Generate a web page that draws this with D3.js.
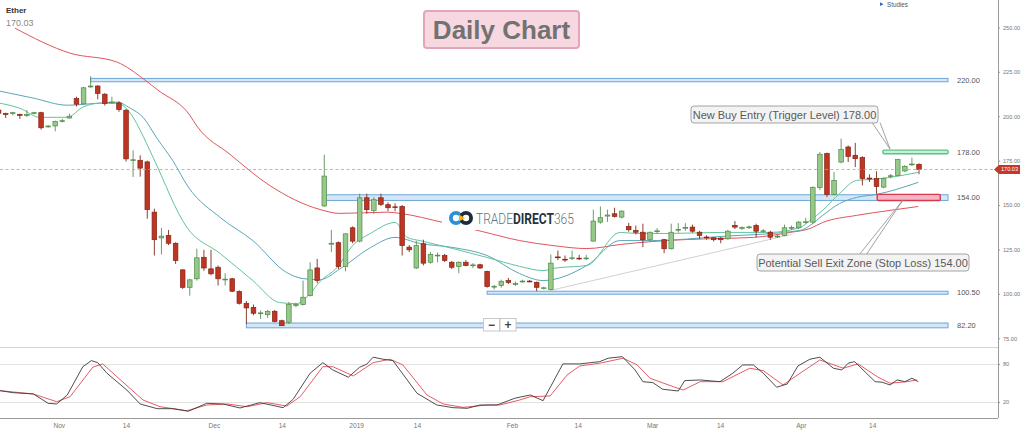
<!DOCTYPE html>
<html>
<head>
<meta charset="utf-8">
<script src="https://cdn.jsdelivr.net/npm/d3@7"></script>
<style>
  html, body { margin: 0; padding: 0; background: #fff; }
  svg { display: block; font-family: "Liberation Sans", Arial, sans-serif; }
</style>
</head>
<body>
<svg id="chart" width="1024" height="437"></svg>
<script>
// ---- data ----
// daily candles, [open, high, low, close], oldest first
const ohlc = [
  [203.5, 204.5, 201, 201.7], [201.5, 202, 199, 201], [201.5, 202.5, 200.5, 202], [201, 201.5, 198.5, 200.5],
  [200.5, 203.5, 199.5, 201], [201.5, 202.5, 201, 202], [202, 202.5, 192.5, 193.5], [194, 195, 193.5, 194.5],
  [194.5, 197.5, 191.5, 197], [197, 198.5, 196.5, 197.5], [199, 201.5, 198.5, 200], [210, 211, 205.5, 206.8],
  [207, 216.5, 206.5, 216], [216.5, 222.5, 216, 217], [217, 217.5, 209.5, 212.8], [212.4, 213, 206, 207.2],
  [207.5, 211, 207, 208], [207.5, 208.5, 202.5, 203.8], [203.4, 204, 174.5, 176], [175, 180.8, 165.8, 175.5],
  [175.2, 178, 166, 170.8], [174.3, 175, 142.3, 147.4], [146, 148, 121.6, 130.5], [131.5, 137.2, 122.2, 132.5],
  [132.9, 136, 127.5, 128.5], [128.5, 129, 116.9, 118.8], [113.5, 114, 102.8, 103.7], [103.7, 108.5, 99, 107.9],
  [108.5, 125.4, 107.5, 120.3], [120.6, 124.8, 113, 114.6], [114.1, 124.8, 110.5, 111.3], [115, 116, 104.7, 108.5],
  [108, 111.6, 104.7, 108.3], [108.5, 109, 101, 101.5], [101.3, 102, 94, 94.7], [94.7, 96, 83.1, 92.1],
  [92.4, 94, 88, 89.1], [89, 90.6, 85.9, 89.3], [88.3, 91, 86.5, 90.2], [90.2, 91, 84, 84.5],
  [84.9, 85.5, 82, 82.1], [84, 95.5, 83, 94], [93.4, 95, 92.5, 94], [94, 107.5, 93.5, 98.1],
  [99, 117.8, 98.5, 113.5], [114.6, 119.7, 106, 107.5], [149.5, 178.3, 149, 166.3], [128, 136, 123.5, 128.5],
  [128.8, 129.5, 114, 115.4], [115.4, 134, 112.7, 133.8], [137.2, 138, 128.5, 129.7], [129.7, 156.4, 129, 154.1],
  [154.1, 156.4, 145.1, 147.4], [147, 154.5, 145, 153], [154.1, 156.4, 149.5, 150.4], [150.2, 151.5, 146.5, 148.5],
  [149, 151, 146.5, 148.7], [149.2, 150, 121.6, 127.2], [126.3, 127.5, 123.5, 124.8], [114.6, 129.9, 114, 127.2],
  [128.2, 130.5, 116, 117.3], [117.8, 123.5, 117, 122.2], [121.5, 123.3, 117.8, 121.8], [121.6, 122.5, 118, 118.8],
  [117.8, 118.5, 114, 115], [115.4, 118.3, 111.6, 117.8], [117.8, 119, 115.5, 116], [116, 117.3, 114.5, 116.3],
  [116.4, 117, 114, 114.6], [112.7, 113, 103.5, 104.1], [103.8, 105, 102.5, 104.3], [104.7, 108, 103.5, 107.1],
  [107.5, 109, 105.5, 106.5], [105.5, 107, 104.5, 105.8], [107, 108, 106.3, 107.2], [107.2, 107.8, 106.5, 107],
  [106.5, 107, 101.5, 103.7], [103, 104, 102.5, 103.4], [102.4, 122.2, 102, 117.3], [120.8, 124.4, 119, 120.4],
  [119.5, 121.6, 118, 119.2], [120, 124.4, 119, 120.3], [120.1, 122, 119, 120], [120, 122, 119, 120.2],
  [129.7, 147.4, 129.5, 141], [140.4, 149.2, 139.5, 142.9], [143.8, 147.4, 140.5, 144.4], [145.1, 148.5, 143, 143.6],
  [143.2, 147, 142.5, 146.6], [138, 140, 135, 136.1], [135.7, 138.5, 133.5, 134.7], [134.7, 139.5, 126.3, 130.5],
  [130.5, 135, 130, 134.7], [135, 137, 134, 135.5], [130.5, 131, 122.9, 125.4], [125.4, 139.5, 125, 134.7],
  [136, 139.8, 134.5, 136.3], [137, 139.8, 135.5, 137.4], [137.6, 139, 134.5, 135.3], [134.7, 135.5, 131, 132.9],
  [132, 133, 130.5, 131.8], [131.6, 132, 129.5, 130.5], [131.4, 132, 128.5, 130.5], [131, 136, 130.5, 135.3],
  [138.5, 141, 136.5, 137.6], [137, 138, 136, 137.3], [137.5, 138.5, 136.5, 137.7], [138.5, 139.5, 131.9, 135.3],
  [135.3, 136.5, 134.5, 135.5], [134.7, 135.5, 130.5, 131.9], [132.3, 133.5, 131.5, 132.5], [132.9, 139, 132.5, 137.2],
  [137, 138.5, 136, 137.4], [137.2, 141, 136.5, 140.4], [140.3, 142.8, 139.5, 140.6], [140.4, 160.5, 139.5, 159.8],
  [159.8, 179.9, 158.5, 178.6], [179, 179.5, 154.5, 156], [156, 168.6, 155.5, 163.9], [174.2, 187.4, 173.5, 181.2],
  [182.7, 183.5, 174.2, 177.4], [178, 185, 171.4, 176.1], [176.7, 177.5, 161.1, 164.9], [165.2, 167.3, 163, 164.7],
  [164.9, 169, 156, 160.5], [160.1, 165.5, 159.5, 164.9], [166, 167.5, 165, 166.5], [166.7, 176, 166, 175.6],
  [169.2, 172.5, 168.5, 171.8], [172.7, 176.7, 172, 173.1], [172.9, 173.5, 167.3, 170.03]
];
const lastPrice = 170.03;

// moving averages, [candle index, price]
const maFast = [
  [0.2, 207.3], [3, 204.5], [5.8, 199.4], [9.7, 199.4], [11.9, 205.1], [14.3, 207.3], [16.7, 207.3],
  [19, 199.4], [20, 192.1], [21.8, 177], [26.6, 137.4], [31.3, 122.7], [35.9, 107.5], [39.7, 95.1],
  [42.1, 94.5], [44, 100.2], [45.4, 107], [47.8, 114.8], [50, 127.2], [52.5, 134], [56, 140.2],
  [57.7, 131.8], [59.5, 130], [64.2, 125.5], [69, 120.5], [73.6, 115.5], [76.9, 113.1], [78.6, 114.5],
  [83.1, 116], [87.8, 134.6], [90.2, 134], [94.8, 134], [101.9, 134.6], [108.9, 134.6], [113.2, 137.4],
  [114.6, 141.3], [116.4, 147], [118.8, 156.6], [121.2, 163.9], [123.5, 164.5], [125.9, 165.6], [129.9, 168.4]
];
const maMid = [
  [0.2, 214.1], [4.9, 210.2], [9.7, 206.2], [13.9, 207.3], [16.7, 207.9], [18.6, 204.5], [20.4, 199.4],
  [22.4, 187.4], [24.6, 175], [26.8, 160.1], [31.3, 143], [35.9, 130], [40.7, 112], [43, 108.6],
  [45.4, 108], [48.2, 114], [52.5, 126], [56, 131.8], [59.5, 128.4], [64.2, 126.1], [69, 121.6],
  [73.6, 111.4], [76.9, 107.5], [83.1, 116], [87.8, 130], [92.4, 130], [101.9, 132.3], [113.2, 135.7],
  [114.6, 138.5], [116.4, 144.2], [118.8, 150.9], [121.2, 154.3], [124, 156], [129.9, 162.8]
];
const maSlow = [
  [2.3, 249.6], [10.1, 235.5], [16.7, 230.5], [20.7, 220.3], [22.5, 214.7], [27, 200.6], [28, 194.5],
  [32.7, 178.5], [38.3, 161], [45.4, 147.5], [48.2, 145.3], [54.9, 146], [56.7, 145.3], [62.8, 140.2],
  [68.3, 135.1], [73.6, 130], [78.3, 127.2], [83.1, 125.5], [87.8, 127.8], [92.4, 129.5], [97.2, 130.6],
  [101.9, 131.2], [106.6, 131.8], [111.8, 134.6], [114.6, 136.8], [116.4, 140.2], [121.2, 144.2],
  [125.9, 147], [129.9, 149.2]
];

// thin trend line, [candle index, price]
const trendLine = [[78, 102], [112, 133.5]];

// support / resistance bands
const levelLabels = ['220.00', '154.00', '100.50', '82.20'];
const levelLow = [219.4, 152.6, 99.8, 80.9];
const levelHigh = [221.3, 155.8, 101.5, 83.6];
const levelStart = [13, 46, 69, 35];
const levelEnd = 134.1;

// trade zones: [start index, end index, low, high]
const buyZone = [124.9, 134.1, 178.9, 180.9];
const stopZone = [124.1, 133, 152.6, 156];

// stochastic %K / %D, [candle index, value]
const stochK = [
  [0.2, 37.9], [2, 34.8], [4.9, 32.7], [7, 18], [8.2, 16.9], [9.7, 31.1], [11.9, 75.8], [13.1, 85.3],
  [14, 82.1], [15.3, 65.4], [18.1, 39], [20, 16.9], [22.4, 9.5], [24.6, 9.5], [26.8, 5.4], [29.4, 18],
  [31.7, 16.9], [34.1, 10.6], [36.9, 19], [40.2, 11.1], [41.6, 24.3], [44, 65.4], [45.8, 82.1],
  [47.2, 70.6], [49.4, 59.1], [51, 74.9], [52, 79.6], [52.9, 90.7], [54.3, 87.5], [55.7, 85.3],
  [59.1, 33.8], [61.9, 15.3], [64.2, 11.1], [66.2, 10.1], [68, 15.3], [70.4, 15.3], [72.9, 25.9],
  [75.1, 31.1], [76.9, 22.1], [79.7, 80.1], [82.1, 80.1], [84.9, 83.7], [86.1, 89.1], [88.1, 91.6],
  [89.9, 70.6], [91, 52.1], [92.4, 50.6], [93.8, 40.1], [96, 37.4], [96.9, 53.7], [99.1, 54.8],
  [101.9, 52.1], [103.7, 65.4], [105.1, 78.5], [106.6, 78.5], [108, 65.4], [109.9, 43.3], [111.4, 48.5],
  [112.9, 76.9], [114.6, 87.5], [116, 90.7], [117.9, 73.3], [119.1, 70.6], [120, 81.2], [120.9, 83.7],
  [123.8, 52.1], [124.8, 51.2], [125.9, 46.9], [126.9, 54.8], [128, 52.1], [129, 57.5], [129.9, 52.1]
];
const stochD = [
  [0.2, 37.9], [4.9, 32.7], [8.2, 20.5], [10.1, 28.4], [13.3, 74.9], [14.7, 80.1], [16.7, 60],
  [20.4, 23.2], [22.8, 12.6], [26.6, 6.3], [29.4, 15.3], [32.3, 16.9], [35.1, 12.6], [37.9, 19],
  [40.7, 13.7], [42.6, 28.4], [45.8, 75.8], [47.2, 75.8], [50.1, 61.1], [52.9, 82.1], [55.3, 87.5],
  [57.1, 78.5], [60.5, 31.1], [62.8, 16.9], [65.6, 11.6], [69, 15.3], [70.8, 15.3], [73.6, 23.2],
  [75.1, 28.4], [77.9, 29.5], [80.3, 62.7], [82.1, 76.9], [84.9, 81.2], [88.2, 89.1], [90.2, 78.5],
  [92, 57.5], [95.3, 44.2], [96.7, 39], [99.1, 52.1], [102.3, 52.1], [106.1, 73.3], [108, 69.5],
  [110.8, 46.9], [113.2, 65.4], [116, 86.4], [119.3, 73.3], [121.4, 80.1], [124.1, 60], [125.9, 49.6],
  [128.3, 52.1], [129.7, 54.8]
];

// axes
const priceTicks = [75, 100, 125, 150, 175, 200, 225, 250];
const stochTicks = [20, 80];
const dateLabels = ['Nov', '14', 'Dec', '14', '2019', '14', 'Feb', '14', 'Mar', '14', 'Apr', '14'];
const datePos = [8.5, 18, 30.4, 40, 50.5, 59.1, 72.5, 81.8, 92.3, 101.9, 113.3, 123.4];

// ---- layout ----
const axisX = 998;
const mainBottom = 347, stochBottom = 418;

const svg = d3.select('#chart');

const x = d3.scaleLinear().domain([0, 130]).range([-1.4, 919]);
const y = d3.scaleLinear().domain([75, 250]).range([338.3, 27.4]);
const ys = d3.scaleLinear().domain([0, 100]).range([414.7, 351.3]);

svg.append('defs').append('clipPath').attr('id', 'plot')
  .append('rect').attr('x', 0).attr('y', 0).attr('width', axisX).attr('height', stochBottom);

// ---- panel frame ----
const frame = svg.append('g');
frame.append('line').attr('x1', 0).attr('x2', axisX).attr('y1', mainBottom + 0.5).attr('y2', mainBottom + 0.5)
  .attr('stroke', '#d4d4d4');
frame.selectAll('line.sgrid').data(stochTicks).join('line').attr('class', 'sgrid')
  .attr('x1', 0).attr('x2', axisX)
  .attr('y1', d => Math.round(ys(d)) + 0.5).attr('y2', d => Math.round(ys(d)) + 0.5)
  .attr('stroke', '#e2e2e2');
frame.append('line').attr('x1', axisX + 0.5).attr('x2', axisX + 0.5).attr('y1', 0).attr('y2', stochBottom)
  .attr('stroke', '#9a9a9a');

// ---- price axis ----
const yAxis = svg.append('g').attr('transform', `translate(${axisX},0)`)
  .call(d3.axisRight(y).tickValues(priceTicks).tickFormat(d3.format('.2f')).tickSize(2).tickPadding(3));
yAxis.select('.domain').remove();
yAxis.selectAll('line').attr('stroke', '#999');
yAxis.selectAll('text').attr('fill', '#777').attr('font-size', 5.6).attr('font-family', '"Liberation Sans", Arial, sans-serif');

const sAxis = svg.append('g').attr('transform', `translate(${axisX},0)`)
  .call(d3.axisRight(ys).tickValues(stochTicks).tickFormat(d3.format('d')).tickSize(2).tickPadding(3));
sAxis.select('.domain').remove();
sAxis.selectAll('line').attr('stroke', '#999');
sAxis.selectAll('text').attr('fill', '#777').attr('font-size', 5.6).attr('font-family', '"Liberation Sans", Arial, sans-serif');

// ---- date axis ----
const xAxis = svg.append('g').attr('transform', `translate(0,${stochBottom})`)
  .call(d3.axisBottom(x).tickValues(datePos).tickFormat((d, i) => dateLabels[i]).tickSize(0).tickPadding(5));
xAxis.select('.domain').attr('d', `M0,0.5H${axisX}`).attr('stroke', '#9a9a9a');
xAxis.selectAll('text').attr('fill', '#777').attr('font-size', 6.6).attr('font-family', '"Liberation Sans", Arial, sans-serif');

// ---- main plot ----
const plot = svg.append('g').attr('clip-path', 'url(#plot)');

// support / resistance bands
plot.selectAll('rect.level').data(levelLabels).join('rect').attr('class', 'level')
  .attr('x', (d, i) => x(levelStart[i]))
  .attr('width', (d, i) => x(levelEnd) - x(levelStart[i]))
  .attr('y', (d, i) => y(levelHigh[i]))
  .attr('height', (d, i) => y(levelLow[i]) - y(levelHigh[i]))
  .attr('fill', '#d5e7f7').attr('stroke', '#6ea6d6').attr('stroke-width', 1);

// moving averages and trend line
const line = d3.line().x(d => x(d[0])).y(d => y(d[1])).curve(d3.curveMonotoneX);
plot.append('path').datum(trendLine).attr('d', d3.line().x(d => x(d[0])).y(d => y(d[1])))
  .attr('fill', 'none').attr('stroke', '#c4c4c4').attr('stroke-width', 0.8);
plot.append('path').datum(maSlow).attr('d', line).attr('fill', 'none').attr('stroke', '#e2555d').attr('stroke-width', 1);
plot.append('path').datum(maMid).attr('d', line).attr('fill', 'none').attr('stroke', '#5aa6b8').attr('stroke-width', 1);
plot.append('path').datum(maFast).attr('d', line).attr('fill', 'none').attr('stroke', '#63c39d').attr('stroke-width', 1);

// logo sits over the averages with a white backing
const logo = svg.append('g');
logo.append('rect').attr('x', 442).attr('y', 205).attr('width', 140).attr('height', 25).attr('fill', '#fff');
logo.append('circle').attr('cx', 456).attr('cy', 218).attr('r', 7).attr('fill', '#2b8ed6');
logo.append('circle').attr('cx', 456).attr('cy', 218).attr('r', 3.2).attr('fill', '#fff');
logo.append('circle').attr('cx', 466).attr('cy', 218).attr('r', 7).attr('fill', '#1d2b3b');
logo.append('circle').attr('cx', 466).attr('cy', 218).attr('r', 3.2).attr('fill', '#fff');
logo.append('path').attr('d', 'M459,214.5 L465,218 L459,221.5 Z').attr('fill', '#f4b400');
// squeeze the word mark horizontally to the logo's width
const logoText = logo.append('text').attr('font-size', 14)
  .attr('font-family', 'Roboto, "Liberation Sans", Arial, sans-serif');
logoText.append('tspan').text('TRADE').attr('fill', '#5f7384').attr('font-weight', 300);
logoText.append('tspan').text('DIRECT').attr('fill', '#24323f').attr('font-weight', 700);
logoText.append('tspan').text('365').attr('fill', '#5f7384').attr('font-weight', 300);
const logoScale = 98 / logoText.node().getComputedTextLength();
logoText.attr('transform', `translate(476,223.5) scale(${logoScale},1)`);

// candles
const candles = svg.append('g').attr('clip-path', 'url(#plot)');
const up = d => d[3] >= d[0];
const bw = 4.6;
candles.selectAll('line.wick').data(ohlc).join('line').attr('class', 'wick')
  .attr('x1', (d, i) => x(i)).attr('x2', (d, i) => x(i))
  .attr('y1', d => y(d[1])).attr('y2', d => y(d[2]))
  .attr('stroke', d => up(d) ? '#5b8f55' : '#7d2a1e').attr('stroke-width', 0.9);
candles.selectAll('rect.body').data(ohlc).join('rect').attr('class', 'body')
  .attr('x', (d, i) => x(i) - bw / 2).attr('width', bw)
  .attr('y', d => y(Math.max(d[0], d[3])))
  .attr('height', d => Math.max(0.8, Math.abs(y(d[0]) - y(d[3]))))
  .attr('fill', d => up(d) ? '#95c98a' : '#bd3523')
  .attr('stroke', d => up(d) ? '#4f8a47' : '#862414').attr('stroke-width', 0.7);

// trade zones
svg.append('rect')
  .attr('x', x(buyZone[0])).attr('width', x(buyZone[1]) - x(buyZone[0]))
  .attr('y', y(buyZone[3])).attr('height', y(buyZone[2]) - y(buyZone[3]))
  .attr('fill', '#c9efd7').attr('stroke', '#58c387').attr('stroke-width', 1.4).attr('rx', 1);
svg.append('rect')
  .attr('x', x(stopZone[0])).attr('width', x(stopZone[1]) - x(stopZone[0]))
  .attr('y', y(stopZone[3])).attr('height', y(stopZone[2]) - y(stopZone[3]))
  .attr('fill', '#f3b7c4').attr('stroke', '#d9364f').attr('stroke-width', 1.4).attr('rx', 1);

// level labels
svg.selectAll('text.level').data(levelLabels).join('text').attr('class', 'level')
  .attr('x', 957).attr('y', (d, i) => y((levelLow[i] + levelHigh[i]) / 2) + 2.6)
  .attr('font-size', 7.5).attr('fill', '#555').text(d => d);
svg.append('text').attr('x', 957).attr('y', y((buyZone[2] + buyZone[3]) / 2) + 2.6)
  .attr('font-size', 7.5).attr('fill', '#555').text('178.00');

// last price line and tag
svg.append('line').attr('x1', 0).attr('x2', 994)
  .attr('y1', y(lastPrice)).attr('y2', y(lastPrice))
  .attr('stroke', '#de8f8f').attr('stroke-width', 0.8).attr('stroke-dasharray', '3,2.5');
const tagY = y(lastPrice);
svg.append('path').attr('d', `M994,${tagY} L999,${tagY - 4.5} H1020 V${tagY + 4.5} H999 Z`).attr('fill', '#c0392b');
svg.append('text').attr('x', 1009.5).attr('y', tagY + 2).attr('text-anchor', 'middle')
  .attr('font-size', 5.6).attr('fill', '#fff').text(lastPrice.toFixed(2));

// ---- annotations ----
function callout(bx, by, bw2, bh, label, wedge) {
  const g = svg.append('g');
  g.append('path').attr('d', wedge).attr('fill', '#fff').attr('stroke', '#8a8a8a').attr('stroke-width', 0.8);
  g.append('rect').attr('x', bx).attr('y', by).attr('width', bw2).attr('height', bh).attr('rx', 3)
    .attr('fill', '#f3f3f3').attr('stroke', '#9a9a9a').attr('stroke-width', 0.9);
  g.append('text').attr('x', bx + bw2 / 2).attr('y', by + bh / 2 + 4).attr('text-anchor', 'middle')
    .attr('font-size', 11).attr('fill', '#5a5a5a').text(label);
}
callout(691, 106, 187, 17, 'New Buy Entry (Trigger Level) 178.00', 'M872,122.5 L890,149 L880,122.5');
callout(757, 254, 212, 17, 'Potential Sell Exit Zone (Stop Loss) 154.00', 'M859,255 L903,200 L866,255');

// title
svg.append('rect').attr('x', 424).attr('y', 11).attr('width', 155).attr('height', 37).attr('rx', 3)
  .attr('fill', '#f7d7e0').attr('stroke', '#e3a5b8').attr('stroke-width', 2);
svg.append('text').attr('x', 501.5).attr('y', 39).attr('text-anchor', 'middle')
  .attr('font-size', 26).attr('font-weight', 700).attr('fill', '#727272').text('Daily Chart');

// instrument name and price
svg.append('text').attr('x', 6).attr('y', 12.5).attr('font-size', 8).attr('font-weight', 700).attr('fill', '#333').text('Ether');
svg.append('text').attr('x', 6).attr('y', 25.5).attr('font-size', 9).attr('fill', '#888').text(lastPrice.toFixed(2));

// studies menu
svg.append('path').attr('d', 'M880,2.3 L883.5,4.2 L880,6.1 Z').attr('fill', '#3366cc');
svg.append('text').attr('x', 887).attr('y', 6.6).attr('font-size', 6.3).attr('fill', '#555').text('Studies');

// zoom buttons
const zoomBtns = svg.append('g');
['\u2212', '+'].forEach((s, i) => {
  zoomBtns.append('rect').attr('x', 483.5 + i * 16.5).attr('y', 318.5).attr('width', 16).attr('height', 12.5)
    .attr('fill', '#fff').attr('stroke', '#c8c8c8');
  zoomBtns.append('text').attr('x', 491.5 + i * 16.5).attr('y', 328.5).attr('text-anchor', 'middle')
    .attr('font-size', 12).attr('font-weight', 700).attr('fill', '#444').text(s);
});

// ---- stochastic ----
const sline = d3.line().x(d => x(d[0])).y(d => ys(d[1]));
const stoch = svg.append('g').attr('clip-path', 'url(#plot)');
stoch.append('path').datum(stochD).attr('d', sline).attr('fill', 'none').attr('stroke', '#e24a55').attr('stroke-width', 0.9);
stoch.append('path').datum(stochK).attr('d', sline).attr('fill', 'none').attr('stroke', '#3a3a3a').attr('stroke-width', 0.9);
</script>
</body>
</html>
